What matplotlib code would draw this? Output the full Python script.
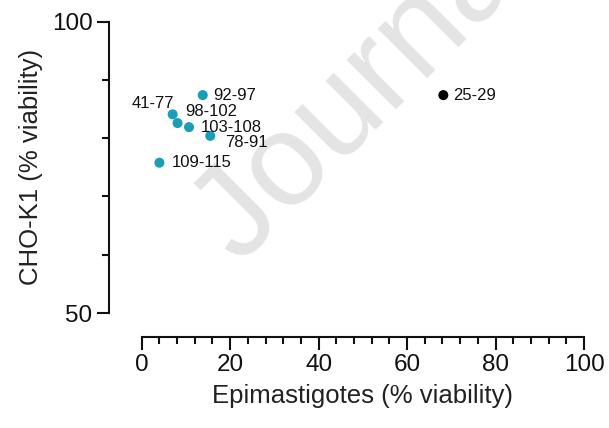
import matplotlib
matplotlib.use("Agg")
import matplotlib.pyplot as plt
from matplotlib.ticker import MultipleLocator

plt.rcParams['font.family'] = ['Liberation Sans', 'DejaVu Sans']

# Data
labels = ["92-97", "41-77", "98-102", "103-108", "78-91", "109-115", "25-29"]
epimastigotes = [13.8, 7.0, 8.1, 10.7, 15.5, 4.0, 68.2]
cho_k1 = [87.4, 84.1, 82.6, 81.9, 80.4, 75.8, 87.4]
colors = ["#1a9db7"] * 6 + ["#000000"]

# label offsets in pixels (dx, dy) and alignment
offsets = [(10.5, 0, 'left'), (1.5, 11, 'right'), (7.5, 12, 'left'), (12, 0, 'left'),
           (15, -7, 'left'), (12.5, 0, 'left'), (10, 0, 'left')]

W, H = 609, 428
fig = plt.figure(figsize=(W / 100, H / 100), dpi=100)
ax = fig.add_axes([141.7 / W, (H - 313) / H, (584 - 141.7) / W, (313 - 21.7) / H])
ax.set_zorder(2)
ax.set_facecolor("none")

# watermark
fig.text(240 / W, (H - 266) / H, "Journal Pre-proof", rotation=45, rotation_mode='anchor',
         fontsize=95, color="#e4e4e4", ha="left", va="baseline", zorder=0)

ax.scatter(epimastigotes, cho_k1, s=52, c=colors, zorder=3, edgecolors='none')
for x, y, lab, (dx, dy, ha) in zip(epimastigotes, cho_k1, labels, offsets):
    ax.annotate(lab, (x, y), xytext=(dx * 0.72, dy * 0.72), textcoords="offset points",
                ha=ha, va="center", fontsize=12, color="#111111")

ax.set_xlim(0, 100)
ax.set_ylim(50, 100)
ax.set_xticks([0, 20, 40, 60, 80, 100])
ax.set_yticks([50, 100])
ax.xaxis.set_minor_locator(MultipleLocator(4))
ax.yaxis.set_minor_locator(MultipleLocator(10))

for s in ['top', 'right']:
    ax.spines[s].set_visible(False)
ax.spines['left'].set_position(('outward', 23.5))
ax.spines['bottom'].set_position(('outward', 17.3))
for s in ['left', 'bottom']:
    ax.spines[s].set_linewidth(1.5)
    ax.spines[s].set_color("#111111")

ax.tick_params(which='major', length=9, width=1.5, labelsize=17.5, color="#111111", labelcolor="#111111", pad=3)
ax.tick_params(which='minor', length=5, width=1.5, color="#111111")

ax.set_xlabel("Epimastigotes (% viability)", fontsize=18.5, color="#222222", labelpad=6)
ax.set_ylabel("CHO-K1 (% viability)", fontsize=18.5, color="#222222", labelpad=6)

fig.savefig("out.png", dpi=100)
